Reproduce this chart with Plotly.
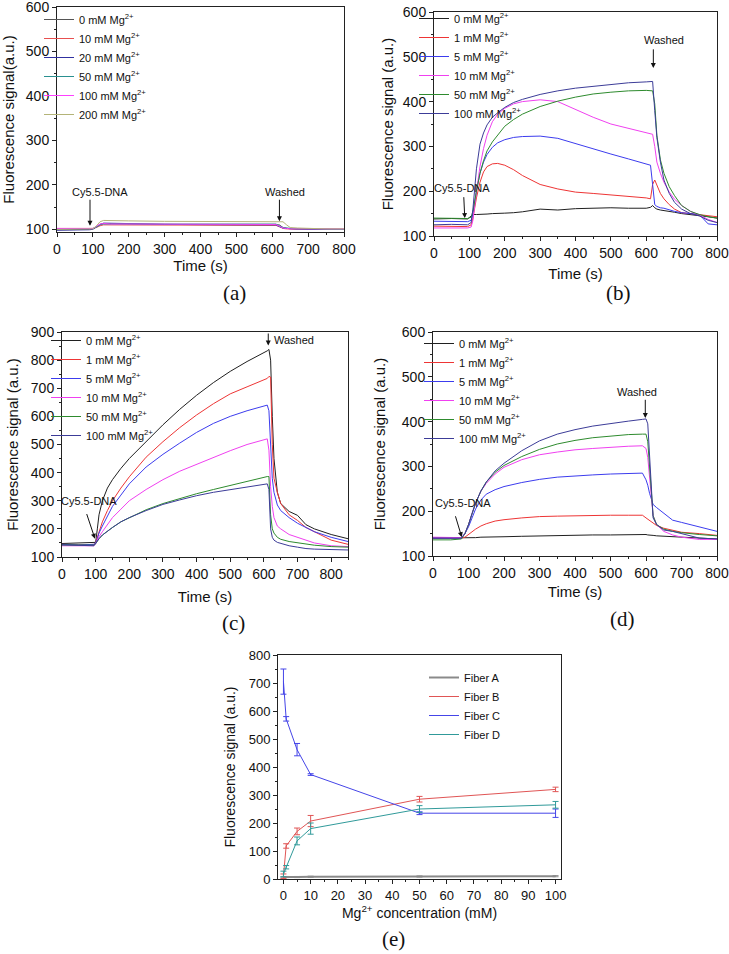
import plotly.graph_objects as go

# ---------------- DATA ----------------
# Panel (a)
t_a = [0, 50, 90, 100, 110, 120, 130, 150, 200, 300, 400, 500, 600, 610, 620, 630, 640, 650, 670, 700, 750, 800]
a_0 = [99, 99, 100, 101, 106, 111, 113, 113, 112, 111, 111, 111, 111, 111, 110, 104, 102, 101, 100, 100, 100, 100]
a_10 = [102, 102, 102, 102, 104, 108, 110, 110, 110, 109, 109, 109, 109, 109, 106, 102, 101, 101, 101, 101, 100, 100]
a_20 = [98, 98, 99, 100, 105, 111, 114, 114, 113, 111, 111, 111, 110, 110, 106, 103, 102, 102, 101, 100, 100, 100]
a_50 = [101, 101, 101, 102, 105, 110, 112, 112, 112, 111, 111, 111, 112, 112, 108, 104, 103, 102, 101, 101, 100, 100]
a_100 = [102, 102, 102, 102, 107, 112, 113, 112, 112, 112, 111, 111, 112, 111, 107, 103, 102, 101, 101, 101, 101, 101]
a_200 = [100, 100, 100, 101, 108, 117, 120, 120, 119, 118, 118, 117, 117, 117, 117, 117, 110, 104, 103, 102, 101, 101]
labels_a = ["0", "10", "20", "50", "100", "200"]

# Panel (b)
t_b = [0, 50, 95, 105, 110, 120, 130, 140, 150, 165, 180, 200, 225, 250, 300, 350, 400, 450, 500, 550,
       600, 612, 618, 624, 630, 640, 650, 665, 680, 700, 725, 750, 775, 800]
b_0 = [138, 139, 138, 145, 148, 148, 148, 148, 149, 150, 150, 151, 152, 154, 160, 158, 161, 162, 163, 162,
       162, 164, 168, 163, 160, 158, 157, 155, 153, 150, 148, 146, 143, 140]
b_1 = [122, 122, 121, 125, 140, 185, 220, 243, 255, 261, 262, 258, 248, 235, 215, 205, 198, 195, 192, 189,
       185, 183, 215, 225, 212, 195, 183, 170, 160, 152, 150, 148, 146, 143]
b_5 = [133, 133, 132, 135, 150, 200, 240, 265, 282, 298, 308, 315, 320, 322, 323, 318, 306, 294, 283, 272,
       262, 258, 215, 170, 166, 163, 162, 158, 155, 152, 150, 148, 127, 125]
b_10 = [118, 118, 118, 120, 135, 200, 255, 295, 325, 355, 372, 385, 395, 400, 404, 400, 382, 365, 350, 340,
        331, 329, 327, 300, 265, 240, 220, 198, 182, 168, 155, 147, 137, 130]
b_50 = [140, 140, 139, 142, 155, 200, 240, 268, 290, 310, 325, 345, 360, 372, 389, 401, 410, 417, 421, 424,
        425, 425, 424, 395, 325, 270, 240, 210, 190, 168, 155, 148, 143, 140]
b_100 = [125, 126, 125, 130, 160, 250, 305, 330, 348, 365, 375, 387, 398, 405, 416, 424, 430, 434, 438, 442,
         444, 445, 445, 380, 320, 265, 225, 195, 175, 160, 150, 145, 135, 130]
labels_bcd = ["0", "1", "5", "10", "50", "100"]

# Panel (c)
t_c = [0, 50, 95, 100, 105, 110, 120, 135, 150, 175, 200, 250, 300, 350, 400, 450, 500, 550, 600,
       610, 615, 620, 625, 630, 640, 650, 675, 700, 725, 750, 800, 850]
c_0 = [148, 150, 150, 152, 200, 250, 300, 345, 375, 415, 450, 510, 570, 625, 675, 720, 760, 795, 825,
       833, 838, 800, 600, 450, 330, 290, 262, 248, 215, 200, 180, 165]
c_1 = [145, 143, 145, 150, 170, 190, 225, 265, 300, 345, 385, 455, 510, 560, 605, 645, 680, 705, 728,
       735, 742, 740, 500, 380, 330, 290, 250, 230, 205, 190, 160, 145]
c_5 = [145, 143, 145, 150, 165, 185, 210, 245, 280, 320, 360, 420, 465, 505, 543, 575, 600, 620, 638,
       640, 620, 500, 380, 330, 285, 265, 240, 220, 205, 190, 170, 155]
c_10 = [140, 140, 140, 148, 160, 172, 190, 215, 240, 270, 300, 340, 375, 405, 430, 455, 478, 500, 517,
        520, 480, 350, 280, 240, 210, 200, 180, 170, 160, 150, 140, 137]
c_50 = [143, 142, 142, 148, 158, 165, 178, 192, 205, 225, 240, 268, 290, 308, 325, 340, 355, 370, 384,
        386, 386, 250, 200, 185, 170, 163, 155, 150, 145, 142, 137, 135]
c_100 = [143, 142, 140, 148, 158, 165, 178, 192, 205, 225, 240, 265, 287, 303, 318, 330, 340, 350, 360,
         360, 340, 200, 170, 160, 152, 148, 140, 135, 130, 128, 126, 125]

# Panel (d)
t_d = [0, 50, 80, 90, 100, 110, 120, 135, 150, 175, 200, 250, 300, 350, 400, 450, 500, 550, 590,
       600, 605, 610, 620, 630, 650, 675, 700, 750, 800]
d_0 = [140, 140, 140, 140, 140, 141, 141, 142, 142, 142, 143, 144, 145, 146, 146, 147, 147, 148, 148,
       148, 147, 147, 146, 145, 144, 143, 142, 140, 138]
d_1 = [140, 140, 140, 142, 148, 155, 160, 167, 172, 178, 181, 185, 188, 189, 190, 190, 191, 191, 191,
       185, 182, 178, 172, 168, 162, 157, 153, 150, 146]
d_5 = [140, 140, 140, 150, 165, 185, 205, 225, 238, 248, 255, 264, 271, 276, 279, 281, 283, 284, 285,
       270, 258, 240, 215, 208, 195, 180, 175, 165, 155]
d_10 = [142, 142, 141, 150, 170, 195, 218, 245, 262, 283, 298, 315, 326, 332, 337, 340, 343, 345, 346,
        340, 320, 270, 190, 170, 155, 147, 142, 137, 137]
d_50 = [136, 136, 138, 150, 170, 195, 218, 245, 265, 287, 302, 322, 338, 350, 358, 364, 368, 371, 372,
        372, 355, 300, 190, 170, 160, 155, 152, 148, 145]
d_100 = [140, 140, 140, 150, 170, 195, 218, 245, 265, 290, 307, 335, 357, 372, 382, 390, 396, 401, 405,
         406, 395, 330, 185, 170, 158, 155, 150, 140, 138]

# Panel (e)
conc_e = [0, 1, 5, 10, 50, 100]
fiber_a = [6, 7, 7, 8, 9, 10]
fiber_a_err = [2, 2, 2, 2, 2, 2]
fiber_b = [10, 118, 170, 207, 285, 320]
fiber_b_err = [8, 8, 12, 20, 10, 8]
fiber_c = [705, 572, 462, 373, 235, 235]
fiber_c_err = [45, 8, 22, 3, 5, 15]
fiber_d = [18, 42, 136, 180, 250, 265]
fiber_d_err = [10, 6, 14, 20, 12, 12]
fiber_names = ["Fiber A", "Fiber B", "Fiber C", "Fiber D"]

# ---------------- STYLE ----------------
W, H = 729, 954
SANS = "Liberation Sans, Arial, sans-serif"
SERIF = "Liberation Serif, Times New Roman, serif"

def px_dom_x(a, b):
    return [a / W, b / W]

def px_dom_y(top, bottom):
    return [1 - bottom / H, 1 - top / H]

cols_a = ["#555555", "#e85050", "#3030a0", "#2a9090", "#ff40ff", "#b4b478"]
cols_bcd = ["#202020", "#ee3535", "#3c3cee", "#f040f0", "#2e8b2e", "#3c3c98"]
cols_e = ["#8a8a8a", "#e05555", "#4545e8", "#309a9a"]

fig = go.Figure()

def sup_label(v):
    return f"{v} mM Mg<sup>2+</sup>"

panels = [
    ("x", "y", "legend", t_a, [a_0, a_10, a_20, a_50, a_100, a_200], labels_a, cols_a),
    ("x2", "y2", "legend2", t_b, [b_0, b_1, b_5, b_10, b_50, b_100], labels_bcd, cols_bcd),
    ("x3", "y3", "legend3", t_c, [c_0, c_1, c_5, c_10, c_50, c_100], labels_bcd, cols_bcd),
    ("x4", "y4", "legend4", t_d, [d_0, d_1, d_5, d_10, d_50, d_100], labels_bcd, cols_bcd),
]
for xa, ya, lg, t, series, labs, cols in panels:
    for s, lab, c in zip(series, labs, cols):
        fig.add_trace(go.Scatter(x=t, y=s, mode="lines", name=sup_label(lab),
                                 line=dict(color=c, width=1), xaxis=xa, yaxis=ya, legend=lg))

for vals, err, name, c, w in zip([fiber_a, fiber_b, fiber_c, fiber_d],
                                 [fiber_a_err, fiber_b_err, fiber_c_err, fiber_d_err],
                                 fiber_names, cols_e, [2, 1, 1, 1]):
    fig.add_trace(go.Scatter(x=conc_e, y=vals, mode="lines", name=name,
                             line=dict(color=c, width=w),
                             error_y=dict(type="data", array=err, color=c, thickness=1, width=3),
                             xaxis="x5", yaxis="y5", legend="legend5"))

def axis(dom, rng, dtick, minor_dtick, title, anchor, standoff, tfs=14, titfs=15):
    return dict(domain=dom, range=rng, dtick=dtick, anchor=anchor, automargin=False,
                showline=True, linecolor="#222", linewidth=1, mirror=True,
                ticks="outside", ticklen=4, tickcolor="#222", showgrid=False, zeroline=False,
                ticklabeloverflow="allow",
                minor=dict(dtick=minor_dtick, ticks="outside", ticklen=2, tickcolor="#222",
                           showgrid=False),
                tickfont=dict(family=SANS, size=tfs, color="#111"),
                title=dict(text=title, standoff=standoff,
                           font=dict(family=SANS, size=titfs, color="#111")))

fig.update_layout(
    xaxis=axis(px_dom_x(57, 344), [0, 800], 100, 50, "Time (s)", "y", 4),
    yaxis=axis(px_dom_y(7, 232), [94, 600], 100, 50, "Fluorescence signal(a.u.)", "x", 9),
    xaxis2=axis(px_dom_x(434, 717), [0, 800], 100, 50, "Time (s)", "y2", 8),
    yaxis2=axis(px_dom_y(12, 236), [100, 600], 100, 50, "Fluorescence signal (a.u.)", "x2", 5),
    xaxis3=axis(px_dom_x(62, 348), [0, 850], 100, 50, "Time (s)", "y3", 10),
    yaxis3=axis(px_dom_y(332, 557), [100, 900], 100, 50, "Fluorescence signal (a.u.)", "x3", 8),
    xaxis4=axis(px_dom_x(433, 717), [0, 800], 100, 50, "Time (s)", "y4", 6),
    yaxis4=axis(px_dom_y(332, 556), [100, 600], 100, 50, "Fluorescence signal (a.u.)", "x4", 12),
    xaxis5=axis(px_dom_x(278, 561), [-2, 102], 10, 5, "Mg<sup>2+</sup> concentration (mM)", "y5", 6, 13, 14),
    yaxis5=axis(px_dom_y(655, 879), [0, 800], 100, 50, "Fluorescence signal (a.u.)", "x5", 9, 13, 14),
)

def legend_at(xpx, ypx):
    return dict(x=xpx / W, y=1 - ypx / H, xanchor="left", yanchor="top",
                bgcolor="rgba(0,0,0,0)", borderwidth=0,
                font=dict(family=SANS, size=11, color="#111"), itemwidth=30)

fig.update_layout(
    legend=legend_at(39, 5),
    legend2=legend_at(414, 4),
    legend3=legend_at(46, 326),
    legend4=legend_at(419, 329),
    legend5=legend_at(424, 663),
)

ann_font = dict(family=SANS, size=11, color="#111")
annotations = []
def text_ann(xr, yr, x, y, txt):
    annotations.append(dict(xref=xr, yref=yr, x=x, y=y, text=txt, showarrow=False, font=ann_font))

def arrow_ann(xr, yr, x, y, ax, ay):
    annotations.append(dict(xref=xr, yref=yr, x=x, y=y, ax=ax, ay=ay, axref=xr, ayref=yr,
                            text="", showarrow=True, arrowhead=2, arrowsize=1, arrowwidth=1,
                            arrowcolor="#111"))

# (a)
text_ann("x", "y", 120, 183, "Cy5.5-DNA")
arrow_ann("x", "y", 92, 108, 92, 170)
text_ann("x", "y", 635, 183, "Washed")
arrow_ann("x", "y", 620, 118, 620, 170)
# (b)
text_ann("x2", "y2", 80, 207, "Cy5.5-DNA")
arrow_ann("x2", "y2", 87, 140, 84, 190)
text_ann("x2", "y2", 651, 537, "Washed")
arrow_ann("x2", "y2", 620, 475, 620, 520)
# (c)
text_ann("x3", "y3", 80, 300, "Cy5.5-DNA")
arrow_ann("x3", "y3", 98, 165, 72, 258)
text_ann("x3", "y3", 690, 870, "Washed")
arrow_ann("x3", "y3", 613, 852, 613, 900)
# (d)
text_ann("x4", "y4", 84, 218, "Cy5.5-DNA")
arrow_ann("x4", "y4", 81, 142, 62, 192)
text_ann("x4", "y4", 575, 466, "Washed")
arrow_ann("x4", "y4", 598, 408, 598, 452)

# panel labels
for lab, xp, yp in [("(a)", 234, 293), ("(b)", 618, 293), ("(c)", 233, 623), ("(d)", 622, 619), ("(e)", 393, 939)]:
    annotations.append(dict(xref="paper", yref="paper", x=xp / W, y=1 - yp / H, text=lab,
                            showarrow=False, xanchor="center", yanchor="middle",
                            font=dict(family=SERIF, size=21, color="#111")))

fig.update_layout(annotations=annotations, width=W, height=H,
                  margin=dict(l=0, r=0, t=0, b=0),
                  paper_bgcolor="white", plot_bgcolor="white", showlegend=True)

fig.write_html("out.html", config={"displayModeBar": False},
               post_script="document.body.style.margin='0';document.body.style.padding='0';"
                           "document.body.style.overflow='hidden';")
